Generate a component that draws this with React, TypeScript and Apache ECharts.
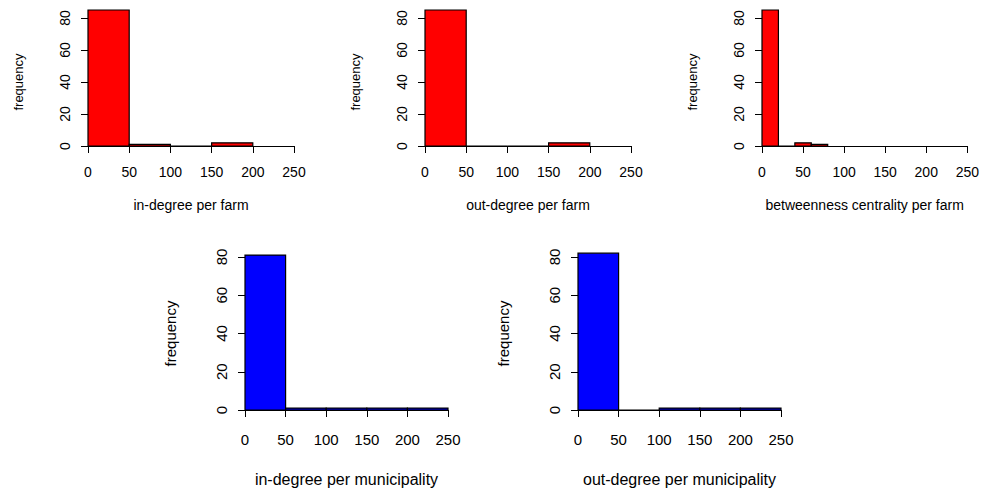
import React, { useEffect, useRef } from 'react';
import * as echarts from 'echarts';

// bin edges and counts for each histogram
const farmBins = [0, 50, 100, 150, 200];
const inDegreeFarm = [85, 1, 0, 2];
const outDegreeFarm = [85, 0, 0, 2];
const betweenBins = [0, 20, 40, 60, 80];
const betweennessFarm = [85, 0, 2, 1];
const muniBins = [0, 50, 100, 150, 200, 250];
const inDegreeMuni = [81, 1, 1, 1, 1];
const outDegreeMuni = [82, 0, 1, 1, 1];
const yTicks = [0, 20, 40, 60, 80];

interface Panel {
  title: string;
  bins: number[];
  counts: number[];
  color: string;
  left: number;
  top: number;
  width: number;
  height: number;
  small: boolean;
}

const panels: Panel[] = [
  { title: 'in-degree per farm', bins: farmBins, counts: inDegreeFarm, color: '#ff0000', left: 88, top: 18, width: 206, height: 128, small: true },
  { title: 'out-degree per farm', bins: farmBins, counts: outDegreeFarm, color: '#ff0000', left: 425, top: 18, width: 206, height: 128, small: true },
  { title: 'betweenness centrality per farm', bins: betweenBins, counts: betweennessFarm, color: '#ff0000', left: 762, top: 18, width: 206, height: 128, small: true },
  { title: 'in-degree per municipality', bins: muniBins, counts: inDegreeMuni, color: '#0000ff', left: 245, top: 257, width: 203, height: 153, small: false },
  { title: 'out-degree per municipality', bins: muniBins, counts: outDegreeMuni, color: '#0000ff', left: 578, top: 257, width: 203, height: 153, small: false },
];

const font = 'Liberation Sans, Arial, sans-serif';

const App: React.FC = () => {
  const chartRef = useRef<HTMLDivElement>(null);

  useEffect(() => {
    const chart = echarts.init(chartRef.current!, undefined, { renderer: 'svg' });

    const axisLine = { show: true, lineStyle: { color: '#000', width: 1 } };
    const options: any = {
      animation: false,
      backgroundColor: '#fff',
      grid: panels.map((p) => ({ left: p.left, top: p.top, width: p.width, height: p.height })),
      xAxis: panels.map((p, i) => ({
        type: 'value',
        gridIndex: i,
        min: 0,
        max: 250,
        interval: 50,
        offset: 6,
        axisLine,
        axisTick: { show: true, length: 7, lineStyle: { color: '#000' } },
        axisLabel: { color: '#000', fontSize: p.small ? 14 : 15, fontFamily: font, margin: p.small ? 13 : 16 },
        splitLine: { show: false },
        name: p.title,
        nameLocation: 'middle',
        nameGap: p.small ? 46 : 55,
        nameTextStyle: { color: '#000', fontSize: p.small ? 14 : 16, fontFamily: font },
      })),
      yAxis: panels.map((p, i) => ({
        type: 'value',
        gridIndex: i,
        min: 0,
        max: 80,
        interval: 20,
        offset: 8,
        axisLine,
        axisTick: { show: true, length: 7, lineStyle: { color: '#000' } },
        axisLabel: {
          color: '#000',
          fontSize: p.small ? 14 : 15,
          fontFamily: font,
          rotate: 90,
          margin: 8,
          formatter: (v: number) => (yTicks.includes(v) ? String(v) : ''),
        },
        splitLine: { show: false },
        name: 'frequency',
        nameLocation: 'middle',
        nameGap: p.small ? 55 : 59,
        nameTextStyle: { color: '#000', fontSize: p.small ? 13 : 15, fontFamily: font },
      })),
      series: panels.map((p, i) => ({
        type: 'custom',
        xAxisIndex: i,
        yAxisIndex: i,
        clip: false,
        data: p.counts.map((c, k) => [p.bins[k], p.bins[k + 1], c]),
        renderItem: (_params: any, api: any) => {
          const tl = api.coord([api.value(0), api.value(2)]);
          const br = api.coord([api.value(1), 0]);
          return {
            type: 'rect',
            shape: { x: tl[0], y: tl[1], width: br[0] - tl[0], height: br[1] - tl[1] },
            style: { fill: p.color, stroke: '#000', lineWidth: 1.2 },
          };
        },
      })),
    };

    chart.setOption(options);
    return () => {
      chart.dispose();
    };
  }, []);

  return <div ref={chartRef} style={{ width: 982, height: 488, position: 'absolute', left: 0, top: 0 }} />;
};

export default App;
